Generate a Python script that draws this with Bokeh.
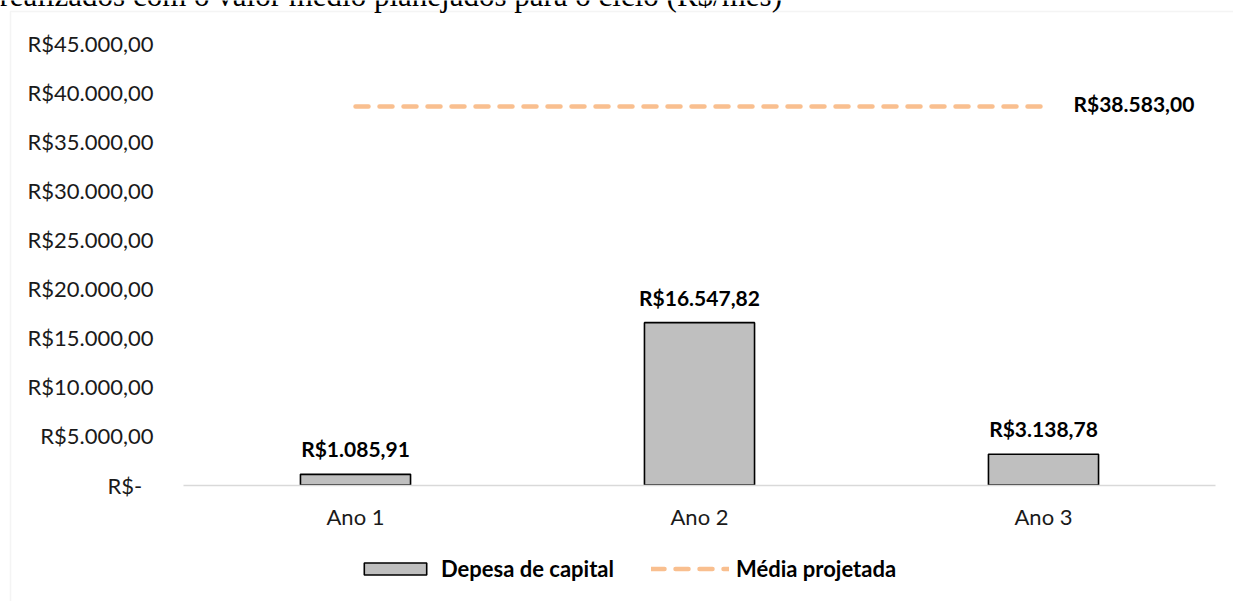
from bokeh.plotting import figure
from bokeh.models import (Range1d, Legend, LegendItem, BoxAnnotation, Label,
                          FixedTicker, ColumnDataSource)
from bokeh.core.properties import value
from bokeh.embed import file_html
from bokeh.resources import INLINE

# ---- data ----
categories = ["Ano 1", "Ano 2", "Ano 3"]
capital = [1085.91, 16547.82, 3138.78]
media = [38583.00, 38583.00, 38583.00]
y_ticks = [0, 5000, 10000, 15000, 20000, 25000, 30000, 35000, 40000, 45000]
y_tick_labels = ["R$-\u00a0\u00a0", "R$5.000,00", "R$10.000,00", "R$15.000,00", "R$20.000,00",
                 "R$25.000,00", "R$30.000,00", "R$35.000,00", "R$40.000,00", "R$45.000,00"]
series_names = ["Depesa de capital", "Média projetada"]
caption = "realizados com o valor médio planejados para o ciclo (R$/mês)"


def brl(v):
    s = f"{v:,.2f}"
    s = s.replace(",", "X").replace(".", ",").replace("X", ".")
    return "R$" + s


FONT = "Lato"
W, H = 1233, 601
# layout of the plotting area in pixels (canvas)
PL, PR, PT, PB = 183, 1215, 43, 484.5
Y_MAX = 45000
n = len(categories)
xpos = list(range(1, n + 1))
band = (PR - PL) / n
x_start = 0.5 - PL / band
x_end = 0.5 + n + (W - PR) / band
ppu = (PB - PT) / Y_MAX
y_end = Y_MAX + PT / ppu
y_start = -(H - PB) / ppu

p = figure(x_range=Range1d(x_start, x_end), y_range=Range1d(y_start, y_end),
           width=W, height=H, output_backend="svg", toolbar_location=None,
           min_border=0)
p.outline_line_color = None
p.xgrid.visible = False
p.ygrid.visible = False
p.background_fill_color = "white"
p.border_fill_color = "white"

src = ColumnDataSource(dict(x=xpos, cap=capital, med=media,
                            lab=[brl(v) for v in capital]))

bars = p.vbar(x="x", top="cap", width=0.32, source=src,
              fill_color="#BFBFBF", line_color="#000000", line_width=1.6)
line = p.line(x="x", y="med", source=src, line_color="#F9BF8F", line_width=4.5,
              line_dash="13 11", line_cap="round")

p.text(x="x", y="cap", text="lab", source=src, text_align="center",
       text_baseline="alphabetic", y_offset=-25.5, text_font=value(FONT),
       text_font_style="bold", text_font_size="21px", text_color="#000000")

p.text(x=[xpos[-1]], y=[media[-1]], text=[brl(media[-1])], x_offset=30,
       y_offset=-3, text_align="left", text_baseline="middle", text_font=value(FONT),
       text_font_style="bold", text_font_size="21px", text_color="#000000")

# axes (drawn at fixed positions inside the canvas)
ya = p.yaxis[0]
ya.fixed_location = 0.5
ya.ticker = FixedTicker(ticks=y_ticks)
ya.major_label_overrides = {t: l for t, l in zip(y_ticks, y_tick_labels)}
ya.axis_line_color = None
ya.major_tick_line_color = None
ya.minor_tick_line_color = None
ya.major_tick_out = 0
ya.major_tick_in = 0
ya.major_label_standoff = 30
ya.major_label_text_font = FONT
ya.major_label_text_font_size = "22px"
ya.major_label_text_color = "#1A1A1A"

xa = p.xaxis[0]
xa.fixed_location = 0
xa.bounds = (0.5, n + 0.5)
xa.ticker = FixedTicker(ticks=xpos)
xa.major_label_overrides = {x: c for x, c in zip(xpos, categories)}
xa.axis_line_color = "#D9D9D9"
xa.axis_line_width = 1.5
xa.major_tick_line_color = None
xa.minor_tick_line_color = None
xa.major_tick_out = 0
xa.major_tick_in = 0
xa.major_label_standoff = 18
xa.major_label_text_font = FONT
xa.major_label_text_font_size = "22px"
xa.major_label_text_color = "#1A1A1A"

legend = Legend(items=[LegendItem(label=series_names[0], renderers=[bars]),
                       LegendItem(label=series_names[1], renderers=[line])],
                orientation="horizontal", location=(356, 19.5),
                glyph_width=78, glyph_height=15, label_standoff=7, spacing=37,
                padding=0, margin=0, border_line_color=None,
                background_fill_alpha=0,
                label_text_font=FONT, label_text_font_style="bold",
                label_text_font_size="22px", label_text_color="#000000")
p.add_layout(legend)

# chart area border (screen units, y measured from the bottom)
p.add_layout(BoxAnnotation(left=10, right=5000, top=H - 11, bottom=-5000,
                           left_units="screen", right_units="screen",
                           top_units="screen", bottom_units="screen",
                           fill_alpha=0, line_color="#D9D9D9", line_width=1.5))

p.add_layout(Label(x=-1, y=H + 5, x_units="screen", y_units="screen", text=caption,
                   text_font="Liberation Serif", text_font_size="31px",
                   text_baseline="alphabetic", text_color="#000000"))

open("out.html", "w").write(file_html(p, INLINE))
